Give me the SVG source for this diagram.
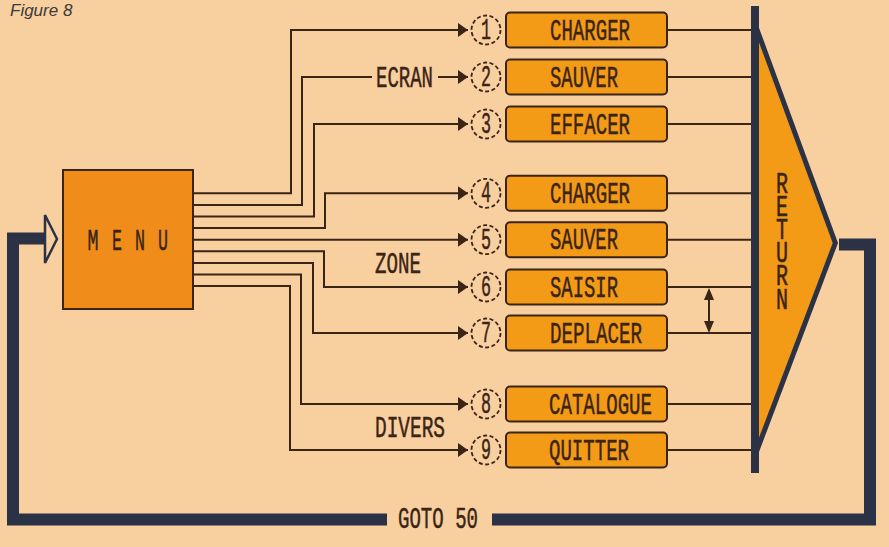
<svg xmlns="http://www.w3.org/2000/svg" width="889" height="547" viewBox="0 0 889 547">
<style>
.t{font-family:"Liberation Mono","DejaVu Sans Mono",monospace;font-size:30px;fill:#3a2416;stroke:#3a2416;stroke-width:0.5}
.r{font-family:"Liberation Mono","DejaVu Sans Mono",monospace;font-size:20px;fill:#3a2416;stroke:#3a2416;stroke-width:0.4;writing-mode:vertical-rl;text-orientation:upright;letter-spacing:-7.3px}
.box{fill:#F39A17;stroke:#3a2416;stroke-width:2}
.ln{stroke:#3a2416;stroke-width:2;fill:none}
.circ{fill:none;stroke:#3a2416;stroke-width:1.8;stroke-dasharray:4 2.5}
.thick{stroke:#2b3246;stroke-width:12;fill:none;stroke-linejoin:miter;stroke-linecap:butt}
.fig{font-family:"Liberation Sans",Arial,sans-serif;font-style:italic;font-size:17px;fill:#3a3a3a}
</style>
<defs>
<marker id="ah" markerUnits="userSpaceOnUse" markerWidth="10" markerHeight="14" refX="10" refY="7" orient="auto">
<path d="M0,0 L10,7 L0,14 z" fill="#3a2416"/>
</marker>
</defs>
<rect x="0" y="0" width="889" height="547" fill="#F8CF9F"/>
<text class="fig" x="10" y="16">Figure 8</text>

<g id="connectors">
<path class="ln" marker-end="url(#ah)" d="M193,193.3 H291 V30 H468"/>
<path class="ln" d="M193,204.9 H302 V77 H372"/>
<path class="ln" marker-end="url(#ah)" d="M438,77 H468"/>
<path class="ln" marker-end="url(#ah)" d="M193,216.5 H314 V124 H468"/>
<path class="ln" marker-end="url(#ah)" d="M193,228.1 H325 V193.3 H468"/>
<path class="ln" marker-end="url(#ah)" d="M193,239.7 H468"/>
<path class="ln" marker-end="url(#ah)" d="M193,251.3 H324 V287 H468"/>
<path class="ln" marker-end="url(#ah)" d="M193,262.9 H313 V333 H468"/>
<path class="ln" marker-end="url(#ah)" d="M193,274.5 H301 V404 H468"/>
<path class="ln" marker-end="url(#ah)" d="M193,286.1 H290 V450 H468"/>
<path class="ln" d="M667,30 H751 M667,77 H751 M667,124 H751 M667,193.3 H751 M667,239.7 H751 M667,287 H751 M667,333 H751 M667,404 H751 M667,450 H751"/>
<path class="ln" d="M709,296 V325"/>
<polygon points="709,288 704,300 714,300" fill="#3a2416"/>
<polygon points="709,333 704,321 714,321" fill="#3a2416"/>
<path class="thick" d="M839,244.5 H870 V519.5 H492"/>
<path class="thick" d="M387,519.5 H13 V238.5 H45"/>
<polygon points="45,215 57,239 45,263" fill="#F8CF9F" stroke="#2b3246" stroke-width="2.5"/>
</g>

<g id="menu">
<rect x="63" y="170" width="130" height="139" fill="#EF8C1A" stroke="#3a2416" stroke-width="2"/>
<text class="t" x="93" y="250" text-anchor="middle" textLength="11" lengthAdjust="spacingAndGlyphs">M</text>
<text class="t" x="117" y="250" text-anchor="middle" textLength="10" lengthAdjust="spacingAndGlyphs">E</text>
<text class="t" x="140" y="250" text-anchor="middle" textLength="10" lengthAdjust="spacingAndGlyphs">N</text>
<text class="t" x="163" y="250" text-anchor="middle" textLength="10" lengthAdjust="spacingAndGlyphs">U</text>
</g>

<g id="labels">
<text class="t" x="376" y="86.5" textLength="57" lengthAdjust="spacingAndGlyphs">ECRAN</text>
<text class="t" x="375" y="273" textLength="46" lengthAdjust="spacingAndGlyphs">ZONE</text>
<text class="t" x="375" y="437" textLength="70" lengthAdjust="spacingAndGlyphs">DIVERS</text>
<text class="t" x="398" y="528" textLength="80" lengthAdjust="spacingAndGlyphs">GOTO 50</text>
</g>

<g id="opt1"><circle class="circ" cx="486" cy="30" r="14.5"/><text class="t" x="486" y="39" text-anchor="middle" textLength="10" lengthAdjust="spacingAndGlyphs">1</text>
<rect class="box" x="506" y="12.5" width="161" height="35" rx="4"/><text class="t" x="550" y="39.5" textLength="80" lengthAdjust="spacingAndGlyphs">CHARGER</text></g>
<g id="opt2"><circle class="circ" cx="486" cy="77" r="14.5"/><text class="t" x="486" y="86" text-anchor="middle" textLength="10" lengthAdjust="spacingAndGlyphs">2</text>
<rect class="box" x="506" y="59.5" width="161" height="35" rx="4"/><text class="t" x="550" y="86.5" textLength="68" lengthAdjust="spacingAndGlyphs">SAUVER</text></g>
<g id="opt3"><circle class="circ" cx="486" cy="124" r="14.5"/><text class="t" x="486" y="133" text-anchor="middle" textLength="10" lengthAdjust="spacingAndGlyphs">3</text>
<rect class="box" x="506" y="106.5" width="161" height="35" rx="4"/><text class="t" x="550" y="133.5" textLength="80" lengthAdjust="spacingAndGlyphs">EFFACER</text></g>
<g id="opt4"><circle class="circ" cx="486" cy="193.3" r="14.5"/><text class="t" x="486" y="202.3" text-anchor="middle" textLength="10" lengthAdjust="spacingAndGlyphs">4</text>
<rect class="box" x="506" y="175.8" width="161" height="35" rx="4"/><text class="t" x="550" y="202.8" textLength="80" lengthAdjust="spacingAndGlyphs">CHARGER</text></g>
<g id="opt5"><circle class="circ" cx="486" cy="239.7" r="14.5"/><text class="t" x="486" y="248.7" text-anchor="middle" textLength="10" lengthAdjust="spacingAndGlyphs">5</text>
<rect class="box" x="506" y="222.2" width="161" height="35" rx="4"/><text class="t" x="550" y="249.2" textLength="68" lengthAdjust="spacingAndGlyphs">SAUVER</text></g>
<g id="opt6"><circle class="circ" cx="486" cy="287" r="14.5"/><text class="t" x="486" y="296" text-anchor="middle" textLength="10" lengthAdjust="spacingAndGlyphs">6</text>
<rect class="box" x="506" y="269.5" width="161" height="35" rx="4"/><text class="t" x="550" y="296.5" textLength="68" lengthAdjust="spacingAndGlyphs">SAISIR</text></g>
<g id="opt7"><circle class="circ" cx="486" cy="333" r="14.5"/><text class="t" x="486" y="342" text-anchor="middle" textLength="10" lengthAdjust="spacingAndGlyphs">7</text>
<rect class="box" x="506" y="315.5" width="161" height="35" rx="4"/><text class="t" x="550" y="342.5" textLength="92" lengthAdjust="spacingAndGlyphs">DEPLACER</text></g>
<g id="opt8"><circle class="circ" cx="486" cy="404" r="14.5"/><text class="t" x="486" y="413" text-anchor="middle" textLength="10" lengthAdjust="spacingAndGlyphs">8</text>
<rect class="box" x="506" y="386.5" width="161" height="35" rx="4"/><text class="t" x="549" y="413.5" textLength="103" lengthAdjust="spacingAndGlyphs">CATALOGUE</text></g>
<g id="opt9"><circle class="circ" cx="486" cy="450" r="14.5"/><text class="t" x="486" y="459" text-anchor="middle" textLength="10" lengthAdjust="spacingAndGlyphs">9</text>
<rect class="box" x="506" y="432.5" width="161" height="35" rx="4"/><text class="t" x="549" y="459.5" textLength="80" lengthAdjust="spacingAndGlyphs">QUITTER</text></g>

<g id="return">
<polygon points="751,6 838,243 751,473" fill="#2b3246"/>
<polygon points="755,31.4 832.7,243 755,448.3" fill="#F39A17"/>
<rect x="751" y="6" width="8" height="467" fill="#2b3246"/>
<g transform="translate(782,0) scale(1,1.5)">
<text class="r" x="0" y="112">RETURN</text>
</g>
</g>
</svg>
